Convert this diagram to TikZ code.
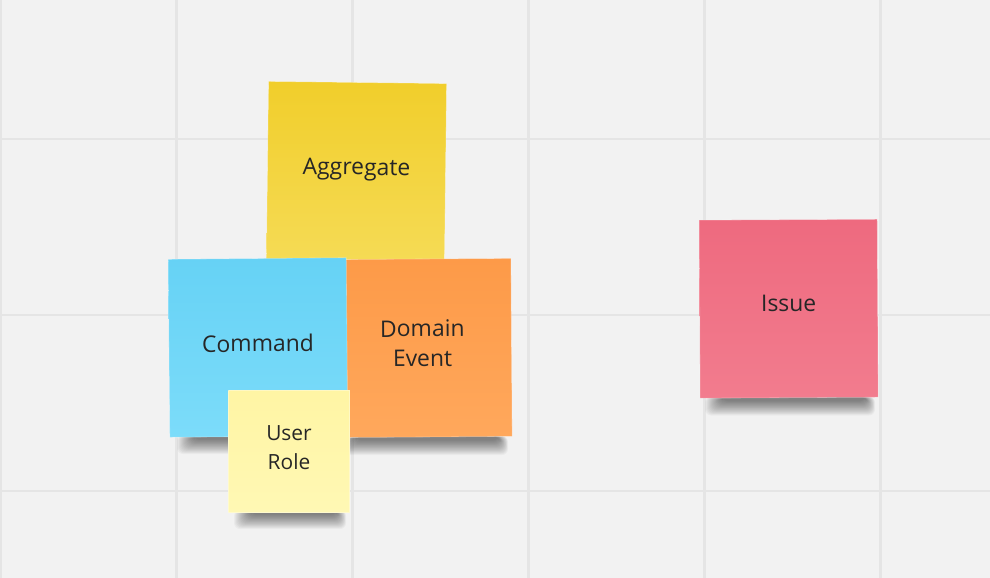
\documentclass[tikz,border=0pt]{standalone}
\usepackage{fontspec}
\setmainfont{Open Sans}

% board and sticky-note palette
\definecolor{paper}{HTML}{F2F2F2}
\definecolor{gridline}{HTML}{E5E5E5}
\definecolor{ink}{HTML}{262626}
\definecolor{aggTop}{HTML}{F1CE2B}
\definecolor{aggBot}{HTML}{F5DB55}
\definecolor{cmdTop}{HTML}{66D2F5}
\definecolor{cmdBot}{HTML}{7CDCFA}
\definecolor{evtTop}{HTML}{FD9A48}
\definecolor{evtBot}{HTML}{FFA85C}
\definecolor{roleTop}{HTML}{FFF5A4}
\definecolor{roleBot}{HTML}{FFF8B4}
\definecolor{issueTop}{HTML}{EE6A7F}
\definecolor{issueBot}{HTML}{F27C8E}

% soft shadow under the lower edge of a note: left, right, bottom
\newcommand\castshadow[3]{%
  \foreach \i in {0,...,17}{%
    \fill[black, opacity=0.032, rounded corners=6bp]
      ({#1+6+1.0*\i},{#3-2}) rectangle ({#2-4-0.55*\i},{#3+17-0.85*\i});
  }%
}

\begin{document}
\begin{tikzpicture}[x=1bp, y=-1bp,
  gridrule/.style={draw=gridline, line width=2.4bp},
  note/.style={minimum width=178bp, minimum height=178bp, inner sep=0pt,
    align=center, text=ink, font=\fontsize{23}{30}\selectfont,
    draw=white, draw opacity=0.35, line width=0.6bp},
  smallnote/.style={note, minimum width=121.5bp, minimum height=122bp,
    font=\fontsize{21}{29}\selectfont}]

  % board
  \fill[paper] (0,0) rectangle (990,578);
  \useasboundingbox (0,0) rectangle (990,578);
  \foreach \x in {0.3,176.3,352.3,528.3,704.3,880.3}
    \draw[gridrule] (\x,0) -- (\x,578);
  \foreach \y in {139,315,491}
    \draw[gridrule] (0,\y) -- (990,\y);

  % shadows
  \castshadow{268}{446}{261}
  \castshadow{333}{512}{438}
  \castshadow{171}{347}{437}
  \castshadow{228}{350}{512}
  \castshadow{699}{879}{398.5}

  % sticky notes
  \node[note, top color=aggTop, bottom color=aggBot, rotate=-0.7,
        text height=11bp, text depth=4bp] (aggregate) at (356.5,171.5) {Aggregate};
  \node[note, top color=evtTop, bottom color=evtBot, rotate=0.4,
        text height=41.4bp, text depth=4bp] (event) at (422.5,348) {Domain\\Event};
  \node[note, top color=cmdTop, bottom color=cmdBot, rotate=0.5,
        text height=12.4bp, text depth=4bp] (command) at (258,347.5) {Command};
  \node[smallnote, top color=roleTop, bottom color=roleBot,
        text height=40bp, text depth=4bp] (role) at (289,451) {User\\Role};
  \node[note, top color=issueTop, bottom color=issueBot, rotate=0.3,
        text height=10bp, text depth=4bp] (issue) at (788.7,308.7) {Issue};
\end{tikzpicture}
\end{document}
